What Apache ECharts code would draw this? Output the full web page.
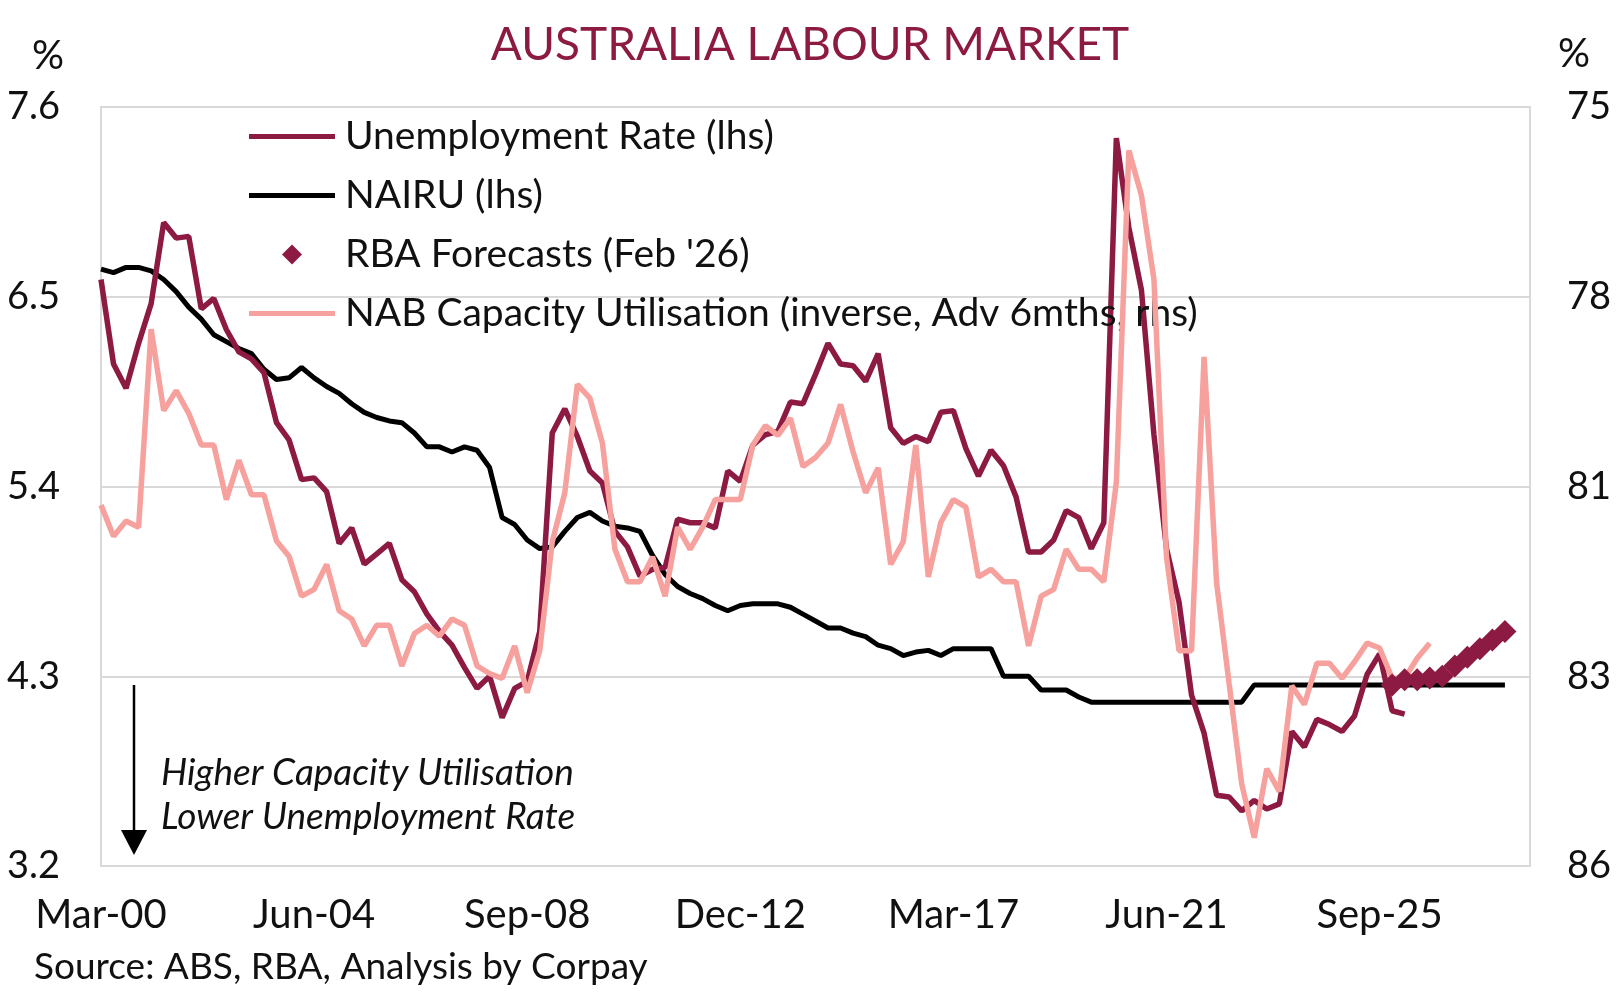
<!DOCTYPE html>
<html><head><meta charset="utf-8">
<script src="https://cdn.jsdelivr.net/npm/echarts@6/dist/echarts.min.js"></script>
<style>html,body{margin:0;padding:0;background:#fff}#chart{width:1620px;height:1000px}</style>
</head><body><div id="chart"></div>
<script>
// ---- categories (quarter-end labels, Mar-00 .. Sep-28) ----
const quarterNames = ['Mar', 'Jun', 'Sep', 'Dec'];
const categories = [];
for (let y = 2000; y <= 2028; y++) {
  for (const q of quarterNames) categories.push(q + '-' + String(y % 100).padStart(2, '0'));
}
categories.length = 115;

const xTickLabels = ['Mar-00', 'Jun-04', 'Sep-08', 'Dec-12', 'Mar-17', 'Jun-21', 'Sep-25'];
const leftTickLabels = ['3.2', '4.3', '5.4', '6.5', '7.6'];
const rightTickLabels = ['86', '83', '81', '78', '75'];

// ---- series values ----
const unemploymentRate = [
  6.60, 6.11, 5.97, 6.23, 6.46, 6.93, 6.84, 6.85, 6.43, 6.49,
  6.31, 6.18, 6.14, 6.06, 5.77, 5.67, 5.44, 5.45, 5.37, 5.07,
  5.16, 4.95, 5.01, 5.07, 4.86, 4.79, 4.66, 4.56, 4.48, 4.35,
  4.23, 4.30, 4.06, 4.23, 4.27, 4.56, 5.71, 5.85, 5.69, 5.49,
  5.42, 5.14, 5.05, 4.88, 4.92, 4.93, 5.21, 5.19, 5.19, 5.16,
  5.49, 5.43, 5.64, 5.70, 5.72, 5.89, 5.88, 6.05, 6.23, 6.11,
  6.10, 6.01, 6.17, 5.74, 5.65, 5.69, 5.66, 5.83, 5.84, 5.62,
  5.46, 5.61, 5.52, 5.34, 5.02, 5.02, 5.09, 5.26, 5.22, 5.04,
  5.19, 7.42, 6.90, 6.54, 5.70, 5.04, 4.73, 4.19, 3.97, 3.61,
  3.60, 3.52, 3.58, 3.53, 3.56, 3.98, 3.89, 4.05, 4.02, 3.98,
  4.07, 4.31, 4.43, 4.10, 4.08
];

const nairu = [
  6.66, 6.64, 6.67, 6.67, 6.65, 6.60, 6.53, 6.44, 6.37, 6.28,
  6.24, 6.20, 6.17, 6.08, 6.02, 6.03, 6.09, 6.03, 5.98, 5.94,
  5.88, 5.83, 5.80, 5.78, 5.77, 5.71, 5.63, 5.63, 5.60, 5.63,
  5.61, 5.51, 5.22, 5.18, 5.09, 5.04, 5.05, 5.14, 5.22, 5.25,
  5.20, 5.17, 5.16, 5.14, 5.00, 4.89, 4.82, 4.78, 4.75, 4.71,
  4.68, 4.71, 4.72, 4.72, 4.72, 4.70, 4.66, 4.62, 4.58, 4.58,
  4.55, 4.53, 4.48, 4.46, 4.42, 4.44, 4.45, 4.42, 4.46, 4.46,
  4.46, 4.46, 4.30, 4.30, 4.30, 4.22, 4.22, 4.22, 4.18, 4.15,
  4.15, 4.15, 4.15, 4.15, 4.15, 4.15, 4.15, 4.15, 4.15, 4.15,
  4.15, 4.15, 4.25, 4.25, 4.25, 4.25, 4.25, 4.25, 4.25, 4.25,
  4.25, 4.25, 4.25, 4.25, 4.25, 4.25, 4.25, 4.25, 4.25, 4.25,
  4.25, 4.25, 4.25
];

const nabCapacityUtilisation = [
  80.77, 81.22, 81.00, 81.09, 78.22, 79.40, 79.11, 79.44, 79.90, 79.90,
  80.69, 80.12, 80.62, 80.62, 81.29, 81.51, 82.09, 81.99, 81.63, 82.30,
  82.42, 82.81, 82.51, 82.51, 83.10, 82.63, 82.51, 82.67, 82.42, 82.51,
  83.10, 83.21, 83.28, 82.81, 83.49, 82.88, 81.30, 80.59, 79.02, 79.22,
  79.87, 81.41, 81.88, 81.88, 81.52, 82.09, 81.09, 81.41, 81.09, 80.69,
  80.69, 80.69, 79.90, 79.62, 79.76, 79.51, 80.21, 80.08, 79.87, 79.31,
  80.00, 80.59, 80.23, 81.63, 81.30, 79.90, 81.81, 81.02, 80.69, 80.80,
  81.81, 81.70, 81.88, 81.88, 82.81, 82.09, 81.99, 81.41, 81.70, 81.70,
  81.88, 80.44, 75.63, 76.28, 77.50, 81.52, 82.88, 82.88, 78.62, 81.90,
  83.36, 84.81, 85.59, 84.59, 84.92, 83.39, 83.66, 83.06, 83.06, 83.28,
  83.04, 82.77, 82.84, 83.28, 83.28, 82.99, 82.77
];

const forecastPeriods = ['Dec-25', 'Mar-26', 'Jun-26', 'Sep-26', 'Dec-26', 'Mar-27', 'Jun-27', 'Sep-27', 'Dec-27', 'Mar-28'];
const forecastValues = [4.25, 4.28, 4.28, 4.29, 4.30, 4.36, 4.41, 4.46, 4.51, 4.56];

// ---- chart ----
const DARK = '#8c1a42';
const PINK = '#f6a19d';
const FONT = 'Lato';
const LINE_ICON = 'path://M0,0H86V5H0Z';
const DIAMOND_ICON = 'path://M10,0L20,10L10,20L0,10Z';

const chart = echarts.init(document.getElementById('chart'), null, { renderer: 'canvas' });

const option = {
  animation: false,
  backgroundColor: '#ffffff',
  textStyle: { fontFamily: FONT },
  title: {
    text: 'AUSTRALIA LABOUR MARKET',
    left: 'center', top: 17,
    textStyle: { fontFamily: FONT, fontSize: 46, fontWeight: 'normal', color: DARK }
  },
  grid: {
    left: 101, right: 90, top: 107, bottom: 134,
    show: true, borderColor: '#d9d9d9', borderWidth: 2, containLabel: false
  },
  legend: {
    orient: 'vertical', left: 244, top: 111,
    itemWidth: 86, itemHeight: 20, itemGap: 18,
    textStyle: { fontFamily: FONT, fontSize: 39, lineHeight: 41, color: '#111', padding: [0, 0, 0, 5] },
    data: [
      { name: 'Unemployment Rate (lhs)', icon: LINE_ICON },
      { name: 'NAIRU (lhs)', icon: LINE_ICON },
      { name: "RBA Forecasts (Feb '26)", icon: DIAMOND_ICON },
      { name: 'NAB Capacity Utilisation (inverse, Adv 6mths, rhs)', icon: LINE_ICON }
    ]
  },
  xAxis: {
    type: 'category', data: categories, boundaryGap: false,
    axisLine: { show: false }, axisTick: { show: false }, splitLine: { show: false },
    axisLabel: {
      interval: (idx, val) => xTickLabels.indexOf(val) >= 0,
      fontFamily: FONT, fontSize: 40, color: '#111', margin: 29
    }
  },
  yAxis: [
    { type: 'value', min: 3.2, max: 7.6, show: false },
    { type: 'value', min: 75, max: 86, inverse: true, show: false },
    {
      type: 'value', position: 'left', min: 0, max: 4, interval: 1,
      axisLine: { show: false }, axisTick: { show: false },
      splitLine: { show: true, lineStyle: { color: '#d9d9d9', width: 2 } },
      axisLabel: { formatter: v => leftTickLabels[v], fontFamily: FONT, fontSize: 38, color: '#111', margin: 41 }
    },
    {
      type: 'value', position: 'right', min: 0, max: 4, interval: 1,
      axisLine: { show: false }, axisTick: { show: false }, splitLine: { show: false },
      axisLabel: { formatter: v => rightTickLabels[v], fontFamily: FONT, fontSize: 38, color: '#111', margin: 37 }
    }
  ],
  series: [
    {
      name: 'NAIRU (lhs)', type: 'line', yAxisIndex: 0, data: nairu,
      symbol: 'none', lineStyle: { color: '#000', width: 5 }, itemStyle: { color: '#000' }, z: 2
    },
    {
      name: 'Unemployment Rate (lhs)', type: 'line', yAxisIndex: 0, data: unemploymentRate,
      symbol: 'none', lineStyle: { color: DARK, width: 5.5 }, itemStyle: { color: DARK }, z: 3
    },
    {
      name: 'NAB Capacity Utilisation (inverse, Adv 6mths, rhs)', type: 'line', yAxisIndex: 1,
      data: nabCapacityUtilisation,
      symbol: 'none', lineStyle: { color: PINK, width: 5.5 }, itemStyle: { color: PINK }, z: 4
    },
    {
      name: "RBA Forecasts (Feb '26)", type: 'scatter', yAxisIndex: 0,
      data: forecastPeriods.map((p, i) => [p, forecastValues[i]]),
      symbol: 'diamond', symbolSize: 23, itemStyle: { color: DARK, opacity: 1 }, z: 5
    }
  ],
  graphic: [
    { type: 'text', left: 32, top: 36, style: { text: '%', font: '40px Lato', fill: '#111' } },
    { type: 'text', left: 1558, top: 34, style: { text: '%', font: '40px Lato', fill: '#111' } },
    { type: 'line', shape: { x1: 134, y1: 685, x2: 134, y2: 834 }, style: { stroke: '#000', lineWidth: 2.5 } },
    { type: 'polygon', shape: { points: [[121, 830], [147, 830], [134, 855]] }, style: { fill: '#000' } },
    { type: 'text', left: 161, top: 755, style: { text: 'Higher Capacity Utilisation', font: 'italic 37px Lato', fill: '#111' } },
    { type: 'text', left: 161, top: 799, style: { text: 'Lower Unemployment Rate', font: 'italic 37px Lato', fill: '#111' } },
    { type: 'text', left: 34, top: 949, style: { text: 'Source: ABS, RBA, Analysis by Corpay', font: '37px Lato', fill: '#111' } }
  ]
};
chart.setOption(option);
</script>
</body></html>
